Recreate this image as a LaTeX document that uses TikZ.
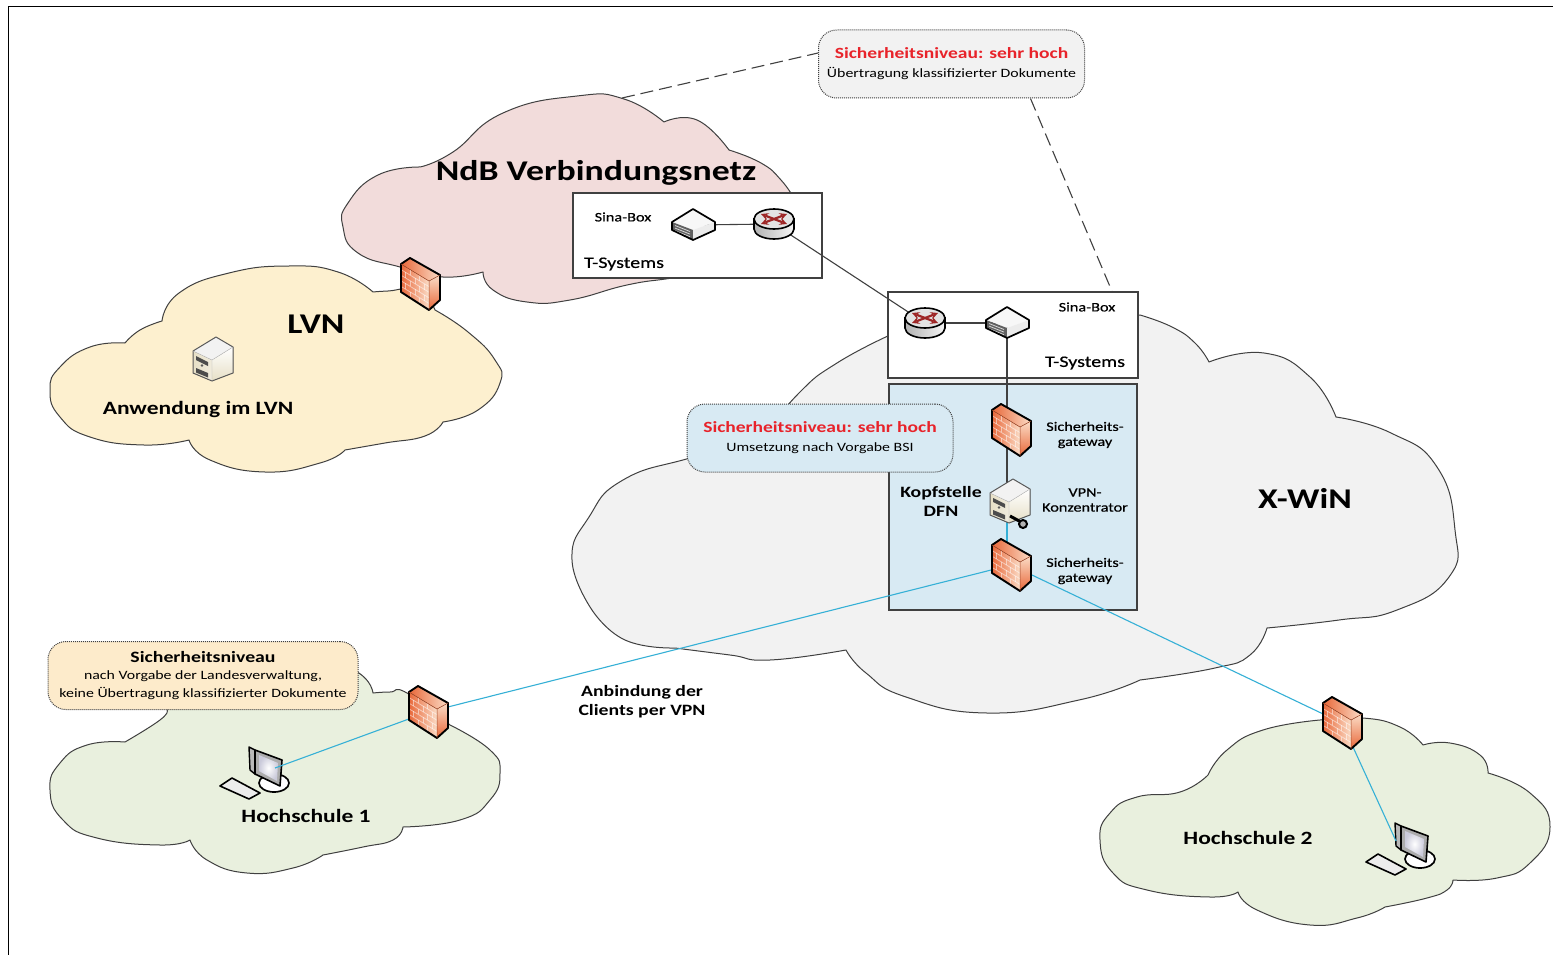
\documentclass[tikz,border=0pt]{standalone}
\usepackage{fontspec}
\setmainfont[FakeStretch=1.25]{Carlito}
\newfontfamily\semifont[FakeStretch=1.25,FakeBold=.5]{Carlito}
\definecolor{cloudgray}{HTML}{F2F2F2}
\definecolor{cloudrose}{HTML}{F2DCDB}
\definecolor{cloudsand}{HTML}{FDF0CF}
\definecolor{cloudgreen}{HTML}{E9F0DE}
\definecolor{boxblue}{HTML}{D8EAF3}
\definecolor{callsand}{HTML}{FDEBCB}
\definecolor{linkblue}{HTML}{35B0D6}
\definecolor{inkgray}{HTML}{404040}
\definecolor{secred}{HTML}{E8232A}
\definecolor{fwdark}{HTML}{E8683A}
\definecolor{fwlight}{HTML}{FBDCC6}
\definecolor{routerred}{HTML}{9E2626}
\definecolor{srvcream}{HTML}{E6DFC6}
\tikzset{
  lobe/.style={smooth, tension=.85},
  pics/firewall/.style={code={
    \fill[left color=fwdark,right color=fwlight] (-19,-20)--(9,-3)--(9,26)--(-19,8)--cycle;
    \fill[top color=fwlight,bottom color=fwdark] (9,-3)--(20,-9)--(20,16)--(9,26)--cycle;
    \fill[left color=fwdark,right color=fwlight] (-19,-20)--(-10,-26)--(20,-9)--(9,-3)--cycle;
    \foreach \k in {1,...,4}
      \draw[white,opacity=.5,line width=.8pt] (-19,{-20+5.6*\k}) -- (9,{-3+5.6*\k});
    \foreach \u/\k in {.33/0,.66/0,.15/1,.5/1,.85/1,.33/2,.66/2,.15/3,.5/3,.85/3,.33/4,.66/4}
      \draw[white,opacity=.5,line width=.8pt] ({-19+28*\u},{-20+17*\u+5.6*\k}) -- ++(0,5.6);
    \draw[line width=1.9pt,line join=round] (-19,-20)--(-10,-26)--(20,-9)--(20,16)--(9,26)--(-19,8)--cycle;
    \draw[line width=.5pt,fwdark!70!black] (-19,-20)--(9,-3)--(20,-9) (9,-3)--(9,26);
  }},
  pics/router/.style={code={
    \draw[line width=1.6pt,left color=gray!60,right color=gray!8] (-20,-5)--(-20,5) arc[start angle=180,end angle=0,x radius=20,y radius=10]--(20,-5)--cycle;
    \draw[line width=1.6pt,fill=gray!22] (0,-5) ellipse[x radius=20,y radius=10];
    \draw[routerred,line width=2.2pt,<->,>=stealth] (-13,-10)--(13,0);
    \draw[routerred,line width=2.2pt,<->,>=stealth] (-13,0)--(13,-10);
  }},
  pics/sinabox/.style={code={
    \fill[gray!6] (-21,-3)--(0,-16)--(22,-3)--(0,5)--cycle;
    \fill[gray!75!black] (-21,-3)--(0,5)--(0,15)--(-21,5)--cycle;
    \fill[gray!15] (0,5)--(22,-3)--(22,5)--(0,15)--cycle;
    \foreach \k in {0,2.6,5.2}
      \draw[gray!30,line width=.8pt] (-18,{.5+\k})--(-3,{6.5+\k});
    \draw[line width=1.7pt,line join=round] (-21,-3)--(0,-16)--(22,-3)--(22,5)--(0,15)--(-21,5)--cycle;
  }},
  pics/server/.style={code={
    \fill[left color=srvcream,right color=srvcream!60] (-19,-8)--(0,1)--(0,22)--(-19,14)--cycle;
    \fill[top color=white,bottom color=srvcream] (0,1)--(21,-12)--(21,14)--(0,22)--cycle;
    \fill[gray!10] (-19,-8)--(4,-22)--(21,-12)--(0,1)--cycle;
    \fill[gray!60!black] (-16,-3)--(-4,3)--(-4,7)--(-16,1)--cycle;
    \fill[gray!70!black] (-10,6.5) circle[radius=1.3];
    \fill[gray!60!black] (-16,9)--(-4,14)--(-4,18.5)--(-16,13.5)--cycle;
    \draw[gray!70!black,line width=1pt,line join=round] (-19,-8)--(4,-22)--(21,-12)--(21,14)--(0,22)--(-19,14)--cycle;
    \draw[gray!60,line width=.4pt] (-19,-8)--(0,1)--(21,-12) (0,1)--(0,22);
  }},
  pics/vpnkey/.style={code={
    \draw[line width=3pt] (1,15)--(12,21);
    \draw[line width=2pt,fill=gray!60] (14,23) circle[radius=4];
  }},
  pics/desktop/.style={code={
    \draw[line width=1.7pt,fill=white] (7,15) ellipse[x radius=15,y radius=9];
    \draw[line width=1.6pt,fill=gray!15,line join=round] (-47,18)--(-35,10)--(-7,25)--(-18,31)--cycle;
    \draw[line width=1.4pt,fill=gray!55,line join=round] (-18,-21)--(-12,-18)--(-12,6)--(-17,2)--cycle;
    \draw[line width=1.6pt,fill=gray!65,line join=round] (-12,-18)--(15,-8)--(13,18)--(-12,6)--cycle;
    \shade[inner color=white,outer color=blue!18!gray!35] (-8,-13)--(11,-5)--(10,13)--(-8,3)--cycle;
  }},
}
\begin{document}
\begin{tikzpicture}
  [x=1pt, y=-1pt,
   cloud/.style={draw=inkgray, line width=1pt, line join=round},
   frame/.style={draw=inkgray, line width=1.2pt, minimum width=#1},
   callout/.style={draw=inkgray, line width=1pt, densely dotted, rounded corners=18pt, align=center, inner sep=0pt, text=black},
   iconspot/.style={inner sep=0pt, minimum size=2pt},
   link/.style={draw=inkgray, line width=1.1pt},
   vpnlink/.style={draw=linkblue, line width=1.1pt},
   dashlink/.style={draw=black!75, line width=1.1pt, dash pattern=on 13pt off 6pt},
   nettitle/.style={font=\fontsize{28.6}{29}\selectfont\bfseries},
   sitetitle/.style={font=\fontsize{18.8}{19}\selectfont\bfseries},
   midlabel/.style={font=\fontsize{15.8}{19}\selectfont\bfseries, align=center},
   smalllabel/.style={font=\fontsize{13}{15}\selectfont\semifont, align=center},
   tsyslabel/.style={font=\fontsize{16}{17}\selectfont\semifont}]
  \useasboundingbox (0,0) rectangle (1553,955);
  \fill[white] (0,0) rectangle (1553,955);
  \draw[black, line width=1.5pt] (8.5,955) -- (8.5,6.5) -- (1553,6.5);

  % clouds
  \draw[cloud, fill=cloudgray] (890,335) -- (1140,315)
    -- plot[lobe] coordinates {(1140,315) (1172,327) (1195,343) (1209,362)}
    -- plot[lobe] coordinates {(1209,362) (1264,353) (1310,377) (1336,417)}
    -- plot[lobe] coordinates {(1336,417) (1391,433) (1437,467) (1455,530) (1449,577) (1397,610) (1339,620) (1267,628)}
    -- plot[lobe] coordinates {(1267,628) (1250,655) (1215,668) (1140,680)}
    -- plot[lobe] coordinates {(1140,680) (1079,700) (987,713) (906,697) (866,673) (846,650)}
    -- plot[lobe] coordinates {(846,650) (770,660) (730,655) (675,648)}
    -- plot[lobe] coordinates {(675,648) (625,640) (592,610)}
    -- plot[lobe] coordinates {(592,610) (572,560) (589,517) (623,480) (690,458) (760,440)}
    -- plot[lobe] coordinates {(760,440) (799,393) (837,363) (890,335)} -- cycle;
  \draw[cloud, fill=cloudrose] (420,167)
    -- plot[lobe] coordinates {(420,167) (453,152) (503,113) (577,96) (624,99) (664,122)}
    -- plot[lobe] coordinates {(664,122) (697,120) (729,150)}
    -- plot[lobe] coordinates {(729,150) (761,163) (781,180) (795,200)}
    -- (800,240)
    -- plot[lobe] coordinates {(800,240) (720,270) (672,278) (627,285) (570,300) (527,302) (493,290) (483,272)}
    -- plot[lobe] coordinates {(483,272) (443,277) (400,267) (358,253) (343,227) (348,203) (378,175) (420,167)} -- cycle;
  \draw[cloud, fill=cloudsand] (162,321)
    -- plot[lobe] coordinates {(162,321) (179,293) (229,273) (289,266) (338,272) (373,292)}
    -- plot[lobe] coordinates {(373,292) (388,291) (418,290) (435,310)}
    -- plot[lobe] coordinates {(435,310) (468,332) (495,360) (500,383) (478,410) (443,422)}
    -- plot[lobe] coordinates {(443,422) (425,436) (385,443) (345,450)}
    -- plot[lobe] coordinates {(345,450) (320,463) (265,472) (210,460) (189,440)}
    -- plot[lobe] coordinates {(189,440) (144,445) (90,437) (60,417) (50,390) (60,367) (90,347) (125,343)}
    -- plot[lobe] coordinates {(125,343) (140,330) (162,321)} -- cycle;
  \draw[cloud, fill=cloudgreen] (167,710)
    -- plot[lobe] coordinates {(167,710) (160,720) (125,742)}
    -- plot[lobe] coordinates {(125,742) (87,745) (60,763) (50,790) (63,820) (97,838) (160,845) (190,840)}
    -- plot[lobe] coordinates {(190,840) (207,860) (247,873) (293,868) (323,855)}
    -- plot[lobe] coordinates {(323,855) (363,847) (393,840) (403,827)}
    -- plot[lobe] coordinates {(403,827) (460,820) (490,800) (500,773) (490,750) (450,725)}
    -- plot[lobe] coordinates {(450,725) (407,693) (390,692) (373,693)}
    -- plot[lobe] coordinates {(373,693) (340,665) (240,660) (167,710)} -- cycle;
  \draw[cloud, fill=cloudgreen] (1320,720)
    -- plot[lobe] coordinates {(1320,720) (1263,730) (1227,750) (1208,775)}
    -- plot[lobe] coordinates {(1208,775) (1180,792) (1137,797) (1110,813) (1100,840) (1113,873) (1147,890) (1210,897) (1238,892)}
    -- plot[lobe] coordinates {(1238,892) (1257,910) (1310,925) (1357,918) (1385,907)}
    -- plot[lobe] coordinates {(1385,907) (1427,898) (1447,890) (1453,880)}
    -- plot[lobe] coordinates {(1453,880) (1497,878) (1530,863) (1550,827) (1530,793) (1488,773)}
    -- plot[lobe] coordinates {(1488,773) (1480,755) (1450,743) (1423,745)}
    -- plot[lobe] coordinates {(1423,745) (1400,727) (1363,718) (1320,720)} -- cycle;

  % boxes
  \node[frame=249pt, minimum height=85pt, fill=white] (boxndb) at (697.5,235.5) {};
  \node[frame=250pt, minimum height=86pt, fill=white] (boxdfn) at (1013,335) {};
  \node[frame=248pt, minimum height=226pt, fill=boxblue] (boxhead) at (1013,497) {};

  % spots for the icons
  \foreach \nm/\px/\py in {fwlvn/420/284, fwsec/1011/430, fwvpn/1011/565, fwone/428/712, fwtwo/1342/723,
      sinandb/693/225, sinadfn/1007/323, routerndb/774/224, routerdfn/925/323,
      srvlvn/212/359, srvvpn/1009/501, pcone/267/768, pctwo/1413/844}
    \node[iconspot] (\nm) at (\px,\py) {};
  \coordinate (pconeport) at (275,768);
  \coordinate (pctwoport) at (1396,841);
  \coordinate (ndbtop) at (622,98);

  % callouts
  \node[callout, fill=cloudgray, minimum width=266pt, minimum height=68pt] (calltop) at (951.5,64)
    {\textcolor{secred}{\fontsize{15.6}{18}\selectfont\bfseries Sicherheitsniveau: sehr hoch}\\[7pt]\fontsize{12.7}{15}\selectfont Übertragung klassifizierter Dokumente};
  \node[callout, fill=boxblue, minimum width=266pt, minimum height=68pt] (callbsi) at (820,438)
    {\textcolor{secred}{\fontsize{15.6}{18}\selectfont\bfseries Sicherheitsniveau: sehr hoch}\\[7pt]\fontsize{12.7}{15}\selectfont Umsetzung nach Vorgabe BSI};
  \node[callout, fill=callsand, minimum width=310pt, minimum height=68pt] (callhs) at (203,675.5)
    {{\fontsize{15.8}{18}\selectfont\bfseries Sicherheitsniveau}\\[5pt]\fontsize{12.7}{15}\selectfont nach Vorgabe der Landesverwaltung,\\[4pt]\fontsize{12.7}{15}\selectfont keine Übertragung klassifizierter Dokumente};

  % connectors
  \draw[dashlink] (ndbtop) -- ([yshift=11pt]calltop.west);
  \draw[dashlink] ([xshift=79pt]calltop.south) -- ([xshift=99pt]boxdfn.north);
  \draw[link] (sinandb) -- (routerndb);
  \draw[link] (routerndb) -- (routerdfn);
  \draw[link] (routerdfn) -- (sinadfn);
  \draw[link] (sinadfn) -- (sinadfn |- fwsec);
  \draw[link] (sinadfn |- fwsec) -- (sinadfn |- srvvpn);
  \draw[vpnlink] (sinadfn |- srvvpn) -- (sinadfn |- fwvpn);
  \draw[vpnlink] (fwone) -- (fwvpn);
  \draw[vpnlink] (fwvpn) -- (fwtwo);
  \pic at (pcone) {desktop};
  \pic at (pctwo) {desktop};
  \draw[vpnlink] (fwone) -- (pconeport);
  \draw[vpnlink] (fwtwo) -- (pctwoport);

  % icons
  \foreach \nm in {fwlvn,fwsec,fwvpn,fwone,fwtwo}
    \pic at (\nm) {firewall};
  \foreach \nm in {sinandb,sinadfn}
    \pic at (\nm) {sinabox};
  \foreach \nm in {routerndb,routerdfn}
    \pic at (\nm) {router};
  \foreach \nm in {srvlvn,srvvpn}
    \pic at (\nm) {server};
  \pic at (srvvpn) {vpnkey};

  % labels
  \node[nettitle] (lblndb) at (596,173) {NdB Verbindungsnetz};
  \node[nettitle] (lbllvn) at (316,324) {LVN};
  \node[nettitle] (lblxwin) at (1305,498) {X-WiN};
  \node[sitetitle] (lblapp) at (198,409) {Anwendung im LVN};
  \node[sitetitle] (lblhsone) at (306,816) {Hochschule 1};
  \node[sitetitle] (lblhstwo) at (1248,838) {Hochschule 2};
  \node[midlabel] (lblvpn) at (642,702) {Anbindung der\\Clients per VPN};
  \node[midlabel] (lblhead) at (941,501) {Kopfstelle\\DFN};
  \node[smalllabel] (lblsinandb) at (623,217) {Sina-Box};
  \node[smalllabel] (lblsinadfn) at (1087,307) {Sina-Box};
  \node[tsyslabel] (lbltsndb) at (624,264) {T-Systems};
  \node[tsyslabel] (lbltsdfn) at (1085,363) {T-Systems};
  \node[smalllabel] (lblgwsec) at (1085,435) {Sicherheits-\\gateway};
  \node[smalllabel] (lblconc) at (1085,500) {VPN-\\Konzentrator};
  \node[smalllabel] (lblgwvpn) at (1085,571) {Sicherheits-\\gateway};
\end{tikzpicture}
\end{document}
